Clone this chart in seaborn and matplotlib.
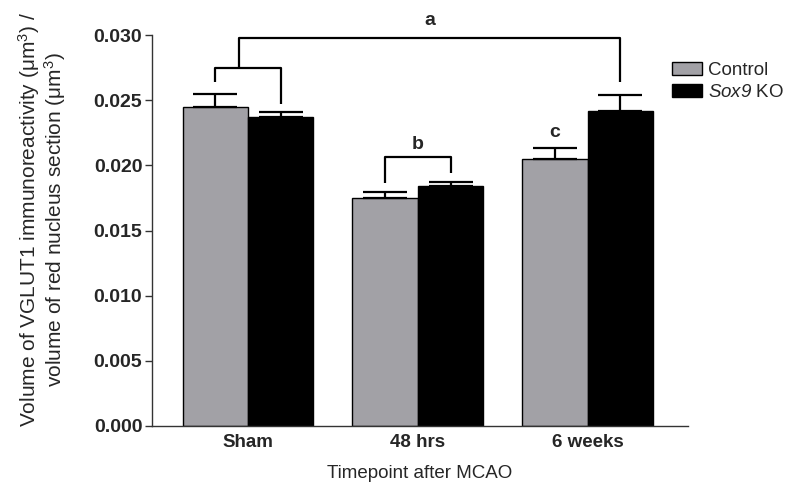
import matplotlib
matplotlib.use("Agg")
import matplotlib.pyplot as plt
import seaborn as sns
import pandas as pd
import numpy as np
from matplotlib.patches import Patch

timepoints = ["Sham", "48 hrs", "6 weeks"]
groups = ["Control", "Sox9 KO"]
control_vals = [0.0245, 0.0175, 0.0205]
ko_vals = [0.0237, 0.0184, 0.0242]
control_err = [0.0010, 0.00046, 0.0008]
ko_err = [0.00036, 0.0003, 0.00117]
yticks = [0.000, 0.005, 0.010, 0.015, 0.020, 0.025, 0.030]

sns.set_theme(style="ticks")
plt.rcParams['font.family'] = ['Liberation Sans', 'DejaVu Sans']
plt.rcParams['mathtext.fontset'] = 'custom'
plt.rcParams['mathtext.rm'] = 'Liberation Sans'
plt.rcParams['mathtext.it'] = 'Liberation Sans:italic'
plt.rcParams['mathtext.sf'] = 'Liberation Sans:italic'
plt.rcParams['mathtext.bf'] = 'Liberation Sans:bold'

df = pd.DataFrame({
    "Timepoint": timepoints * 2,
    "Group": [groups[0]] * 3 + [groups[1]] * 3,
    "Value": control_vals + ko_vals,
})

fig = plt.figure(figsize=(7.88, 4.93), dpi=100)
ax = fig.add_axes([152 / 788, 1 - 426 / 493, (688 - 152) / 788, (426 - 35) / 493])

palette = {"Control": "#a2a1a6", "Sox9 KO": "#000000"}
sns.barplot(data=df, x="Timepoint", y="Value", hue="Group", order=timepoints,
            hue_order=groups, palette=palette, errorbar=None, width=0.77,
            edgecolor="black", linewidth=1.0, saturation=1, ax=ax, legend=False)

bars = [p for p in ax.patches if p.get_width() > 0]
bars = sorted(bars, key=lambda p: p.get_x())
centers = {}
tops = {}
for idx, p in enumerate(bars):
    t, g = divmod(idx, 2)
    centers[(t, g)] = p.get_x() + p.get_width() / 2
    tops[(t, g)] = p.get_height()

for t in range(3):
    for g in range(2):
        e = (control_err if g == 0 else ko_err)[t]
        ax.errorbar(centers[(t, g)], tops[(t, g)], yerr=[[0], [e]], fmt="none",
                    ecolor="black", elinewidth=1.6, capsize=16, capthick=1.6, zorder=3)

lw = 1.6
kw = dict(color="black", lw=lw, clip_on=False, solid_capstyle="butt")
x1, x2 = centers[(0, 0)], centers[(0, 1)]
ax.plot([x1, x1, x2, x2], [0.0264, 0.02745, 0.02745, 0.0247], **kw)
xm = (x1 + x2) / 2 - 0.05
x3 = centers[(2, 1)]
ax.plot([xm, xm, x3, x3], [0.02745, 0.02975, 0.02975, 0.0264], **kw)
ax.text((xm + x3) / 2, 0.0311, "a", ha="center", va="center", fontsize=14,
        fontweight="bold", clip_on=False)
b1, b2 = centers[(1, 0)], centers[(1, 1)]
ax.plot([b1, b1, b2, b2], [0.01865, 0.02064, 0.02064, 0.0194], **kw)
ax.text((b1 + b2) / 2, 0.0216, "b", ha="center", va="center", fontsize=14,
        fontweight="bold")
ax.text(centers[(2, 0)], 0.0225, "c", ha="center", va="center", fontsize=14,
        fontweight="bold")

ax.set_ylim(0, 0.030)
ax.set_xlim(-0.565, 2.59)
ax.set_yticks(yticks)
ax.set_yticklabels([f"{v:.3f}" for v in yticks], fontsize=14, fontweight="bold")
ax.set_xticks(range(3))
ax.set_xticklabels(timepoints, fontsize=13.5, fontweight="bold")
ax.tick_params(axis="x", length=0, pad=6)
ax.tick_params(axis="y", length=5, width=1.0, color="#333333", pad=2)
for s in ["top", "right"]:
    ax.spines[s].set_visible(False)
for s in ["left", "bottom"]:
    ax.spines[s].set_color("#333333")
    ax.spines[s].set_linewidth(1.0)

ax.set_xlabel("Timepoint after MCAO", fontsize=13.5, labelpad=10)
ax.set_ylabel("")
fig.text(42 / 788, 1 - 220 / 493,
         "Volume of VGLUT1 immunoreactivity (μm$^3$) /\nvolume of red nucleus section (μm$^3$)",
         rotation=90, ha="center", va="center", multialignment="center",
         fontsize=15, linespacing=1.0)

handles = [Patch(facecolor=palette["Control"], edgecolor="black", linewidth=1.0),
           Patch(facecolor=palette["Sox9 KO"], edgecolor="black", linewidth=1.0)]
fig.legend(handles, ["Control", "$\\mathsf{Sox9}$ KO"], loc="upper left",
           bbox_to_anchor=(672 / 788, 1 - 62 / 493), frameon=False, fontsize=13.5,
           handlelength=1.6, handleheight=0.7, handletextpad=0.3, labelspacing=0.25,
           borderaxespad=0, borderpad=0)

fig.savefig("out.png", dpi=100)
